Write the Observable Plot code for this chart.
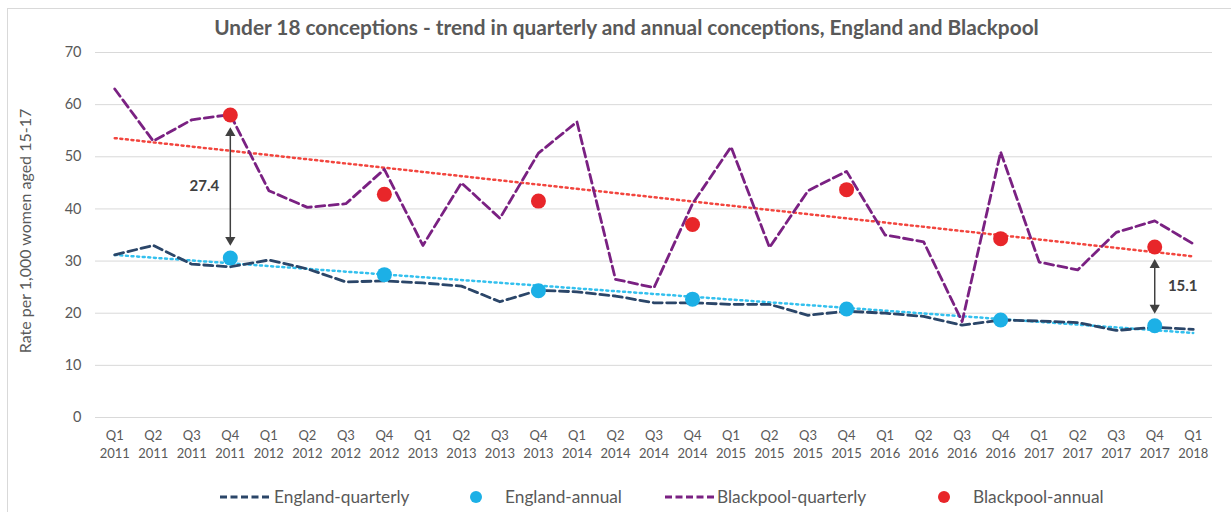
<!DOCTYPE html>
<html><head><meta charset="utf-8">
<script src="https://cdn.jsdelivr.net/npm/d3@7"></script>
<script src="https://cdn.jsdelivr.net/npm/@observablehq/plot@0.6"></script>
<style>
body{margin:0;background:#fff;font-family:Lato,"Open Sans",sans-serif;}
#wrap{position:relative;width:1231px;height:512px;overflow:hidden;}
#border{position:absolute;left:7px;top:8px;width:1300px;height:600px;border:1px solid #d9d9d9;box-sizing:border-box;}
#title{position:relative;height:40px;}
#title span{position:absolute;left:0;width:1253px;top:16px;line-height:22px;text-align:center;font-weight:700;font-size:20.8px;color:#595959;white-space:nowrap;}
#chart{position:relative;height:430px;}
#chart svg{display:block;}
#legend{position:relative;height:42px;}
.lt{position:absolute;top:16px;height:22px;line-height:22px;font-size:17.3px;color:#595959;white-space:nowrap;}
.ls{position:absolute;top:16px;}
</style></head>
<body>
<div id="wrap">
<div id="border"></div>
<div id="title"><span>Under 18 conceptions - trend in quarterly and annual conceptions, England and Blackpool</span></div>
<div id="chart"></div>
<div id="legend"></div>
</div>
<script>
const periods = ["Q1 2011","Q2 2011","Q3 2011","Q4 2011","Q1 2012","Q2 2012","Q3 2012","Q4 2012",
  "Q1 2013","Q2 2013","Q3 2013","Q4 2013","Q1 2014","Q2 2014","Q3 2014","Q4 2014",
  "Q1 2015","Q2 2015","Q3 2015","Q4 2015","Q1 2016","Q2 2016","Q3 2016","Q4 2016",
  "Q1 2017","Q2 2017","Q3 2017","Q4 2017","Q1 2018"];
const englandQuarterly = [31.2,33.0,29.4,28.9,30.2,28.5,26.0,26.2,25.8,25.2,22.2,24.4,24.1,23.3,22.0,22.0,
  21.7,21.7,19.6,20.4,20.0,19.4,17.7,18.7,18.5,18.2,16.7,17.3,16.9];
const blackpoolQuarterly = [63.0,53.0,57.1,58.1,43.5,40.3,41.0,47.6,33.0,45.0,38.2,50.7,56.7,26.5,24.9,41.0,
  51.9,32.6,43.5,47.2,35.0,33.7,18.4,50.9,29.8,28.3,35.5,37.7,33.3];
const annualPeriods = ["Q4 2011","Q4 2012","Q4 2013","Q4 2014","Q4 2015","Q4 2016","Q4 2017"];
const englandAnnual = [30.6,27.4,24.3,22.7,20.8,18.7,17.6];
const blackpoolAnnual = [58.0,42.8,41.5,37.0,43.7,34.3,32.7];
const gapPeriods = ["Q4 2011","Q4 2017"];
const gapLabels = ["27.4","15.1"];
const yTicks = [0,10,20,30,40,50,60,70];
const seriesNames = ["England-quarterly","England-annual","Blackpool-quarterly","Blackpool-annual"];

const C = {engQ:"#2b4669", engA:"#1cb0e6", bpQ:"#7a2182", bpA:"#e8262a", engT:"#33c0ee", bpT:"#f2453e", ann:"#404040", txt:"#595959"};

const idx = p => periods.indexOf(p);
const qData = periods.map((p,i)=>({i, q:p.split(" ")[0], yr:p.split(" ")[1], eng:englandQuarterly[i], bp:blackpoolQuarterly[i]}));
const aData = annualPeriods.map((p,k)=>({i:idx(p), eng:englandAnnual[k], bp:blackpoolAnnual[k]}));
// least-squares trendline of the annual values, spanning the whole category range (as Excel does)
function trend(key){
  const xs = aData.map(d=>d.i), ys = aData.map(d=>d[key]);
  const mx = d3.mean(xs), my = d3.mean(ys);
  const b = d3.sum(xs,(x,k)=>(x-mx)*(ys[k]-my)) / d3.sum(xs,x=>(x-mx)**2);
  const a = my - b*mx;
  return [0, periods.length-1].map(i=>({i, v:a+b*i}));
}
const gaps = gapPeriods.map((p,k)=>{const a = aData.find(d=>d.i===idx(p)); return {i:a.i, lo:a.eng, hi:a.bp, mid:(a.eng+a.bp)/2, label:gapLabels[k], k};});

const chart = Plot.plot({
  width:1231, height:430,
  marginLeft:95, marginRight:19, marginTop:12, marginBottom:53,
  style:{fontFamily:"Lato, 'Open Sans', sans-serif", fontSize:"14.5px", color:C.txt, background:"transparent", overflow:"visible"},
  x:{domain:[-0.5, periods.length-0.5], axis:null},
  y:{domain:[0,70], ticks:7, tickSize:0, tickPadding:14, label:null},
  marks:[
    Plot.ruleY(yTicks, {stroke:"#d9d9d9", strokeWidth:1}),
    Plot.line(trend("eng"), {x:"i", y:"v", stroke:C.engT, strokeWidth:2.5, strokeDasharray:"2 3.6"}),
    Plot.line(trend("bp"), {x:"i", y:"v", stroke:C.bpT, strokeWidth:2.5, strokeDasharray:"2 3.6"}),
    Plot.line(qData, {x:"i", y:"eng", stroke:C.engQ, strokeWidth:2.8, strokeDasharray:"9 4.5"}),
    Plot.line(qData, {x:"i", y:"bp", stroke:C.bpQ, strokeWidth:2.8, strokeDasharray:"9 4.5"}),
    Plot.dot(aData, {x:"i", y:"eng", r:7.5, fill:C.engA}),
    Plot.dot(aData, {x:"i", y:"bp", r:7.5, fill:C.bpA}),
    Plot.ruleX(gaps, {x:"i", y1:"hi", y2:"lo", stroke:C.ann, strokeWidth:1.5, insetTop:18, insetBottom:18}),
    Plot.dot(gaps, {x:"i", y:"hi", symbol:"triangle", r:3.8, fill:C.ann, dy:18}),
    Plot.dot(gaps, {x:"i", y:"lo", symbol:"triangle", r:3.8, fill:C.ann, dy:-18, rotate:180}),
    Plot.text(gaps, {filter:d=>d.k===0, x:"i", y:"mid", text:"label", dx:-26, fontWeight:"bold", fontSize:15, fill:C.ann}),
    Plot.text(gaps, {filter:d=>d.k===1, x:"i", y:"mid", text:"label", dx:28, fontWeight:"bold", fontSize:15, fill:C.ann}),
    Plot.text(qData, {x:"i", text:"q", frameAnchor:"bottom", dy:22, fill:C.txt, fontSize:13}),
    Plot.text(qData, {x:"i", text:"yr", frameAnchor:"bottom", dy:40, fill:C.txt, fontSize:13}),
    Plot.text(["Rate per 1,000 women aged 15-17"], {frameAnchor:"left", textAnchor:"middle", rotate:-90, dx:-70, dy:-4, fill:C.txt, fontSize:16})
  ]
});
document.getElementById("chart").appendChild(chart);

// legend
const leg = document.getElementById("legend");
const items = [
  {name:seriesNames[0], kind:"line", color:C.engQ, sx:220, tx:274},
  {name:seriesNames[1], kind:"dot", color:C.engA, sx:476, tx:505},
  {name:seriesNames[2], kind:"line", color:C.bpQ, sx:665, tx:717},
  {name:seriesNames[3], kind:"dot", color:C.bpA, sx:944, tx:973}
];
for (const it of items){
  const ns = "http://www.w3.org/2000/svg";
  const s = document.createElementNS(ns,"svg");
  s.setAttribute("class","ls");
  if (it.kind==="line"){
    s.setAttribute("width",50); s.setAttribute("height",22);
    s.style.left = it.sx+"px";
    const l = document.createElementNS(ns,"line");
    l.setAttribute("x1",0); l.setAttribute("x2",50); l.setAttribute("y1",11); l.setAttribute("y2",11);
    l.setAttribute("stroke",it.color); l.setAttribute("stroke-width",2.8); l.setAttribute("stroke-dasharray","7 3.5");
    s.appendChild(l);
  } else {
    s.setAttribute("width",14); s.setAttribute("height",22);
    s.style.left = (it.sx-7)+"px";
    const c = document.createElementNS(ns,"circle");
    c.setAttribute("cx",7); c.setAttribute("cy",11); c.setAttribute("r",6);
    c.setAttribute("fill",it.color);
    s.appendChild(c);
  }
  leg.appendChild(s);
  const t = document.createElement("div");
  t.className = "lt"; t.style.left = it.tx+"px"; t.textContent = it.name;
  leg.appendChild(t);
}
</script>
</body></html>
